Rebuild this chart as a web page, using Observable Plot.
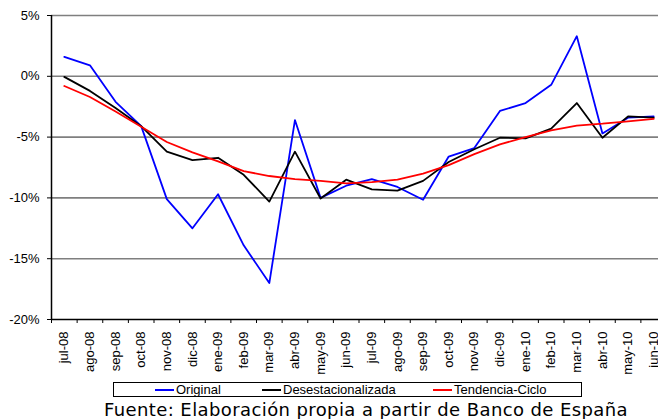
<!DOCTYPE html>
<html><head><meta charset="utf-8">
<script src="https://cdn.jsdelivr.net/npm/d3@7"></script>
<script src="https://cdn.jsdelivr.net/npm/@observablehq/plot@0.6"></script>
<style>
html,body{margin:0;padding:0;background:#fff;overflow:hidden}
body{width:658px;height:419px;position:relative;font-family:"Liberation Sans",Arial,sans-serif;color:#000}
#chart{position:absolute;left:0;top:0;width:666px}
#chart svg{max-width:none !important;width:666px;height:375px}
#legend{position:absolute;left:113px;top:382px;width:467px;height:13px;border:1px solid #000;background:#fff;font-family:"Liberation Sans Narrow","Arial Narrow","Liberation Sans",sans-serif;font-size:13px}
.item{position:absolute;top:-1px;height:15px;line-height:15px;white-space:nowrap}
.item span.sw{display:inline-block;width:19px;height:0;border-top:2px solid;vertical-align:middle;margin-right:2px;position:relative;top:-1px}
#caption{position:absolute;left:0;width:732px;text-align:center;top:399px;font-family:"DejaVu Sans",Verdana,sans-serif;font-size:18px;letter-spacing:0.4px;line-height:22px;white-space:nowrap}
</style>
</head><body>
<div id="chart"></div>
<div id="legend"></div>
<div id="caption">Fuente: Elaboración propia a partir de Banco de España</div>
<script>
const months = ["jul-08","ago-08","sep-08","oct-08","nov-08","dic-08","ene-09","feb-09","mar-09","abr-09","may-09","jun-09","jul-09","ago-09","sep-09","oct-09","nov-09","dic-09","ene-10","feb-10","mar-10","abr-10","may-10","jun-10"];
const original = [1.6,0.9,-2.1,-4.1,-10.1,-12.5,-9.7,-13.9,-17.0,-3.6,-10.0,-9.0,-8.45,-9.1,-10.15,-6.6,-5.9,-2.85,-2.2,-0.7,3.3,-4.7,-3.4,-3.3];
const desestacionalizada = [-0.05,-1.2,-2.6,-4.1,-6.2,-6.9,-6.7,-8.1,-10.3,-6.2,-10.05,-8.5,-9.3,-9.4,-8.6,-7.05,-6.0,-5.05,-5.1,-4.3,-2.2,-5.05,-3.3,-3.4];
const tendencia = [-0.8,-1.7,-2.9,-4.15,-5.4,-6.25,-7.0,-7.8,-8.2,-8.45,-8.6,-8.8,-8.7,-8.5,-8.0,-7.3,-6.4,-5.6,-5.0,-4.45,-4.05,-3.9,-3.7,-3.5];
const seriesNames = ["Original","Desestacionalizada","Tendencia-Ciclo"];
const seriesColors = ["#0000ff","#000000","#ff0000"];
const yTicks = [-20,-15,-10,-5,0,5];
const gridTicks = [-15,-10,-5,0,5];

const values = [original, desestacionalizada, tendencia];
const rows = [];
values.forEach((arr, s) => arr.forEach((v, i) => rows.push({i, v, s: seriesNames[s]})));

const xDomain = [-0.5, months.length - 0.5];
const boundaries = d3.range(months.length + 1).map(i => i - 0.5);
const idx = d3.range(months.length);

const chart = Plot.plot({
  width: 666,
  height: 375,
  marginLeft: 51,
  marginRight: 0,
  marginTop: 15,
  marginBottom: 56,
  style: {fontFamily: "'Liberation Sans', Arial, sans-serif", fontSize: "13px", color: "#000", background: "#fff", maxWidth: "none"},
  x: {type: "linear", domain: xDomain},
  y: {domain: [-20, 5]},
  color: {domain: seriesNames, range: seriesColors},
  marks: [
    Plot.ruleY(gridTicks, {stroke: "#7f7f7f", strokeWidth: 1.6}),
    Plot.ruleY([yTicks[0]], {stroke: "#000", strokeWidth: 1.5}),
    Plot.ruleX([xDomain[0]], {stroke: "#000", strokeWidth: 1.5}),
    Plot.axisY(yTicks, {tickSize: 4, tickPadding: 8, tickFormat: d => d + "%", label: null, fontSize: 13}),
    Plot.axisX(boundaries, {tickSize: 4, tickFormat: () => "", label: null}),
    Plot.axisX(idx, {tickSize: 0, tickPadding: 12, tickRotate: -90, tickFormat: i => months[i], label: null, fontSize: 13}),
    Plot.line(rows, {x: "i", y: "v", z: "s", stroke: "s", strokeWidth: 1.8})
  ]
});
document.getElementById("chart").appendChild(chart);

const legend = document.getElementById("legend");
const offsets = [41, 148, 319];
seriesNames.forEach((n, k) => {
  const d = document.createElement("div");
  d.className = "item";
  d.style.left = offsets[k] + "px";
  d.innerHTML = `<span class="sw" style="border-color:${seriesColors[k]}"></span>${n}`;
  legend.appendChild(d);
});
</script>
</body></html>
